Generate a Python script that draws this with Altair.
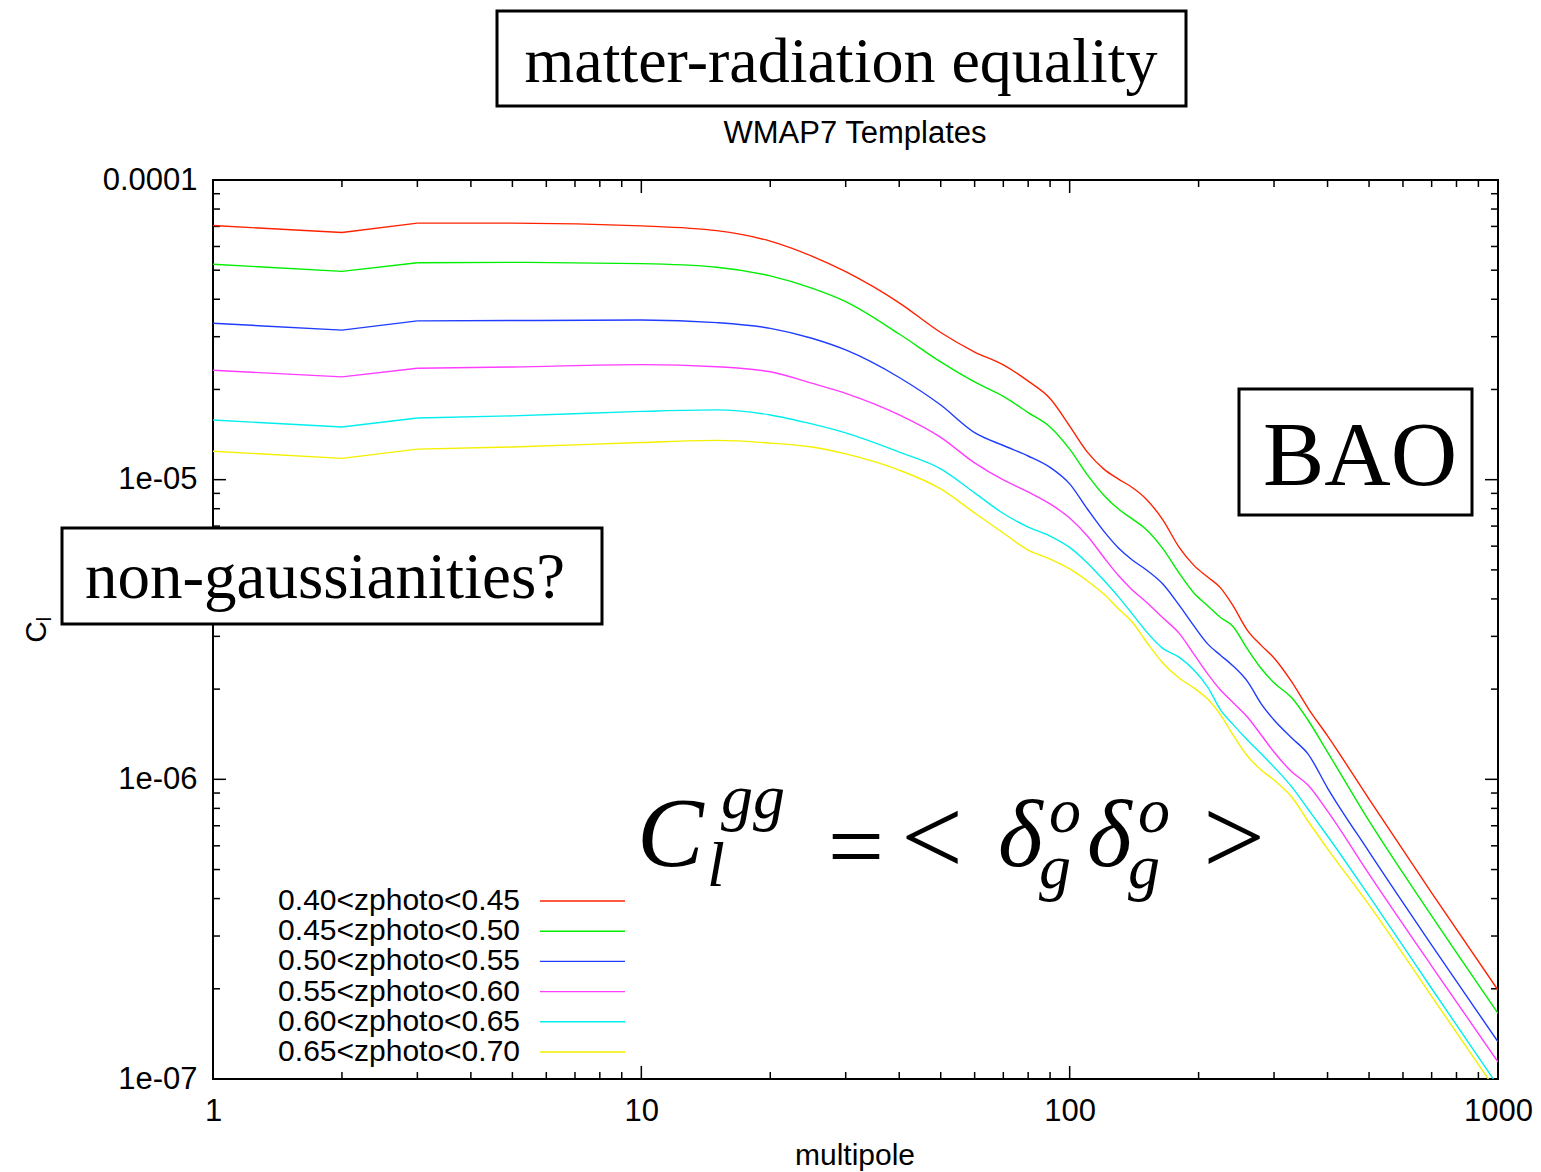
import altair as alt
import pandas as pd

# Multipoles at which the six angular power spectra are tabulated
ell = [1, 2, 3, 5, 10, 15, 20, 25, 30, 40, 50, 60, 70, 80, 90, 100, 110, 120, 130,
       140, 150, 165, 180, 195, 210, 225, 240, 260, 280, 300, 330, 360, 400, 500,
       700, 1000]

# log10(C_l) for each photometric-redshift bin
log_cl_040_045 = [-4.152, -4.175, -4.144, -4.144, -4.153, -4.169, -4.204, -4.254, -4.306,
                  -4.410, -4.509, -4.574, -4.617, -4.671, -4.729, -4.821, -4.908, -4.964,
                  -4.998, -5.026, -5.061, -5.134, -5.225, -5.286, -5.325, -5.361, -5.418,
                  -5.503, -5.553, -5.595, -5.675, -5.762, -5.855, -6.066, -6.379, -6.703]
log_cl_045_050 = [-4.281, -4.305, -4.276, -4.275, -4.279, -4.291, -4.320, -4.361, -4.406,
                  -4.514, -4.607, -4.674, -4.722, -4.776, -4.824, -4.898, -4.984, -5.051,
                  -5.098, -5.131, -5.163, -5.230, -5.311, -5.378, -5.421, -5.460, -5.488,
                  -5.565, -5.630, -5.678, -5.728, -5.802, -5.909, -6.139, -6.456, -6.781]
log_cl_050_055 = [-4.478, -4.501, -4.470, -4.469, -4.467, -4.476, -4.495, -4.528, -4.567,
                  -4.659, -4.751, -4.843, -4.886, -4.921, -4.959, -5.014, -5.098, -5.171,
                  -5.228, -5.268, -5.298, -5.348, -5.418, -5.488, -5.548, -5.586, -5.620,
                  -5.673, -5.748, -5.802, -5.862, -5.915, -6.029, -6.242, -6.553, -6.876]
log_cl_055_060 = [-4.635, -4.657, -4.628, -4.624, -4.616, -4.623, -4.640, -4.678, -4.712,
                  -4.784, -4.859, -4.944, -5.001, -5.041, -5.081, -5.128, -5.188, -5.258,
                  -5.320, -5.368, -5.405, -5.461, -5.512, -5.582, -5.648, -5.702, -5.742,
                  -5.792, -5.852, -5.909, -5.975, -6.019, -6.106, -6.316, -6.623, -6.943]
log_cl_060_065 = [-4.801, -4.824, -4.794, -4.787, -4.772, -4.767, -4.784, -4.814, -4.844,
                  -4.908, -4.964, -5.044, -5.113, -5.158, -5.188, -5.226, -5.278, -5.335,
                  -5.391, -5.448, -5.502, -5.563, -5.592, -5.635, -5.692, -5.768, -5.815,
                  -5.869, -5.915, -5.959, -6.025, -6.099, -6.189, -6.389, -6.698, -7.023]
log_cl_065_070 = [-4.905, -4.929, -4.898, -4.891, -4.876, -4.869, -4.878, -4.891, -4.914,
                  -4.968, -5.031, -5.111, -5.178, -5.235, -5.265, -5.298, -5.338, -5.381,
                  -5.431, -5.475, -5.535, -5.612, -5.662, -5.695, -5.732, -5.785, -5.849,
                  -5.922, -5.969, -6.002, -6.059, -6.139, -6.232, -6.419, -6.724, -7.047]

bins = ["0.40<zphoto<0.45", "0.45<zphoto<0.50", "0.50<zphoto<0.55",
        "0.55<zphoto<0.60", "0.60<zphoto<0.65", "0.65<zphoto<0.70"]
colors = ["#ff2200", "#00ee00", "#1f3cff", "#ff3cff", "#00eeee", "#f4f000"]
series = [log_cl_040_045, log_cl_045_050, log_cl_050_055,
          log_cl_055_060, log_cl_060_065, log_cl_065_070]

x_ticks = [1, 10, 100, 1000]
y_ticks = [1e-7, 1e-6, 1e-5, 1e-4]

rows = []
for order, (name, logs) in enumerate(zip(bins, series)):
    for l, lc in zip(ell, logs):
        rows.append({"ell": l, "cl": 10.0 ** lc, "bin": name, "order": order})
spectra = pd.DataFrame(rows)
# the lowest multipoles are joined point to point, the rest drawn as a smooth curve
spectra_low = spectra[spectra["ell"] <= 3]
spectra_high = spectra[spectra["ell"] >= 3]

W, H = 1285, 899
SANS = "Liberation Sans"
SERIF = "Liberation Serif"

x_scale = alt.Scale(type="log", domain=[1, 1000], nice=False)
y_scale = alt.Scale(type="log", domain=[1e-7, 1e-4], nice=False)

one = pd.DataFrame({"k": [0]})


def text(s, x, y, size, font=SANS, style="normal", align="center",
         baseline="alphabetic", angle=0):
    return alt.Chart(one).mark_text(
        text=s, fontSize=size, font=font, fontStyle=style, align=align,
        baseline=baseline, angle=angle, color="black"
    ).encode(x=alt.value(x), y=alt.value(y))


def box(x1, y1, x2, y2):
    return alt.Chart(one).mark_rect(
        fill="white", stroke="black", strokeWidth=3
    ).encode(x=alt.value(x1), x2=alt.value(x2), y=alt.value(y1), y2=alt.value(y2))


# plot frame
frame = alt.Chart(one).mark_rect(fill=None, stroke="black", strokeWidth=2).encode(
    x=alt.value(0), x2=alt.value(W), y=alt.value(0), y2=alt.value(H))

# inward gnuplot-style tick marks on all four sides
x_minor = [m * d for d in [1, 10, 100] for m in range(2, 10)]
y_minor = [m * d for d in [1e-7, 1e-6, 1e-5] for m in range(2, 10)]

tick_layers = []
for vals, ln in [(x_ticks, 13), (x_minor, 7)]:
    df = pd.DataFrame({"ell": vals})
    for y0, y1 in [(H, H - ln), (0, ln)]:
        tick_layers.append(
            alt.Chart(df).mark_rule(color="black", strokeWidth=1.5).encode(
                x=alt.X("ell:Q", scale=x_scale), y=alt.value(y0), y2=alt.value(y1)))
for vals, ln in [(y_ticks, 13), (y_minor, 7)]:
    df = pd.DataFrame({"cl": vals})
    for x0, x1 in [(0, ln), (W, W - ln)]:
        tick_layers.append(
            alt.Chart(df).mark_rule(color="black", strokeWidth=1.5).encode(
                y=alt.Y("cl:Q", scale=y_scale), x=alt.value(x0), x2=alt.value(x1)))

y_label_expr = ("datum.value > 5e-5 ? '0.0001' : datum.value > 5e-6 ? '1e-05' : "
                "datum.value > 5e-7 ? '1e-06' : '1e-07'")

x_axis = alt.Axis(values=x_ticks, format="d", title=None, ticks=False,
                  domain=False, grid=False, labelFlush=False, labelOverlap=False,
                  labelFontSize=31, labelFont=SANS, labelColor="black",
                  labelPadding=17)
y_axis = alt.Axis(values=y_ticks, labelExpr=y_label_expr, title=None,
                  ticks=False, domain=False, grid=False, labelFlush=False,
                  labelOverlap=False, labelFontSize=31, labelFont=SANS,
                  labelColor="black", labelPadding=16)


def curves(df, interp):
    return alt.Chart(df).mark_line(
        strokeWidth=1.4, clip=True, interpolate=interp
    ).encode(
        x=alt.X("ell:Q", scale=x_scale, axis=x_axis),
        y=alt.Y("cl:Q", scale=y_scale, axis=y_axis),
        color=alt.Color("bin:N", scale=alt.Scale(domain=bins, range=colors),
                        legend=None),
        order="ell:Q",
        detail="order:O",
    )


lines_low = curves(spectra_low, "linear")
lines_high = curves(spectra_high, "monotone")

# key drawn gnuplot-style: label first, sample line to its right
key_layers = []
for i, (name, col) in enumerate(zip(bins, colors)):
    yy = 721 + 30.2 * i
    key_layers.append(text(name, 307, yy, 30, align="right", baseline="middle"))
    key_layers.append(
        alt.Chart(one).mark_rule(color=col, strokeWidth=1.4).encode(
            x=alt.value(327), x2=alt.value(412), y=alt.value(yy), y2=alt.value(yy)))

# axis titles and chart title
titles = [
    text("WMAP7 Templates", 642, -46, 31, baseline="middle"),
    text("multipole", 642, 976, 30, baseline="middle"),
    text("C", -176, 452, 30, baseline="middle", angle=270),
    text("l", -168, 439, 20, baseline="middle", angle=270),
]

# slide annotations
notes = [
    box(284, -169, 973, -74),
    text("matter-radiation equality", 628, -98, 64, font=SERIF),
    box(1026, 209, 1259, 335),
    text("BAO", 1147, 305, 92, font=SERIF),
    box(-151, 348, 389, 444),
    text("non-gaussianities?", 112, 418, 65, font=SERIF),
]

formula = [
    text("C", 424, 686, 100, font=SERIF, style="italic", align="left"),
    text("gg", 508, 638, 64, font=SERIF, style="italic", align="left"),
    text("l", 494, 706, 64, font=SERIF, style="italic", align="left"),
    text("=", 643, 700, 100, font=SERIF, align="center"),
    text("<", 719, 694, 110, font=SERIF, align="center"),
    text("δ", 785, 686, 96, font=SERIF, style="italic", align="left"),
    text("o", 836, 652, 64, font=SERIF, style="italic", align="left"),
    text("g", 826, 708, 64, font=SERIF, style="italic", align="left"),
    text("δ", 874, 686, 96, font=SERIF, style="italic", align="left"),
    text("o", 925, 652, 64, font=SERIF, style="italic", align="left"),
    text("g", 915, 708, 64, font=SERIF, style="italic", align="left"),
    text(">", 1021, 694, 110, font=SERIF, align="center"),
]

chart = alt.layer(
    frame, *tick_layers, lines_low, lines_high, *key_layers, *titles, *notes,
    *formula
).properties(
    width=W, height=H,
    autosize=alt.AutoSizeParams(type="none"),
    padding={"left": 213, "top": 180, "right": 43, "bottom": 93},
    background="white",
).configure_view(stroke=None)

chart.save("out.html", embed_options={"renderer": "svg", "actions": False})
